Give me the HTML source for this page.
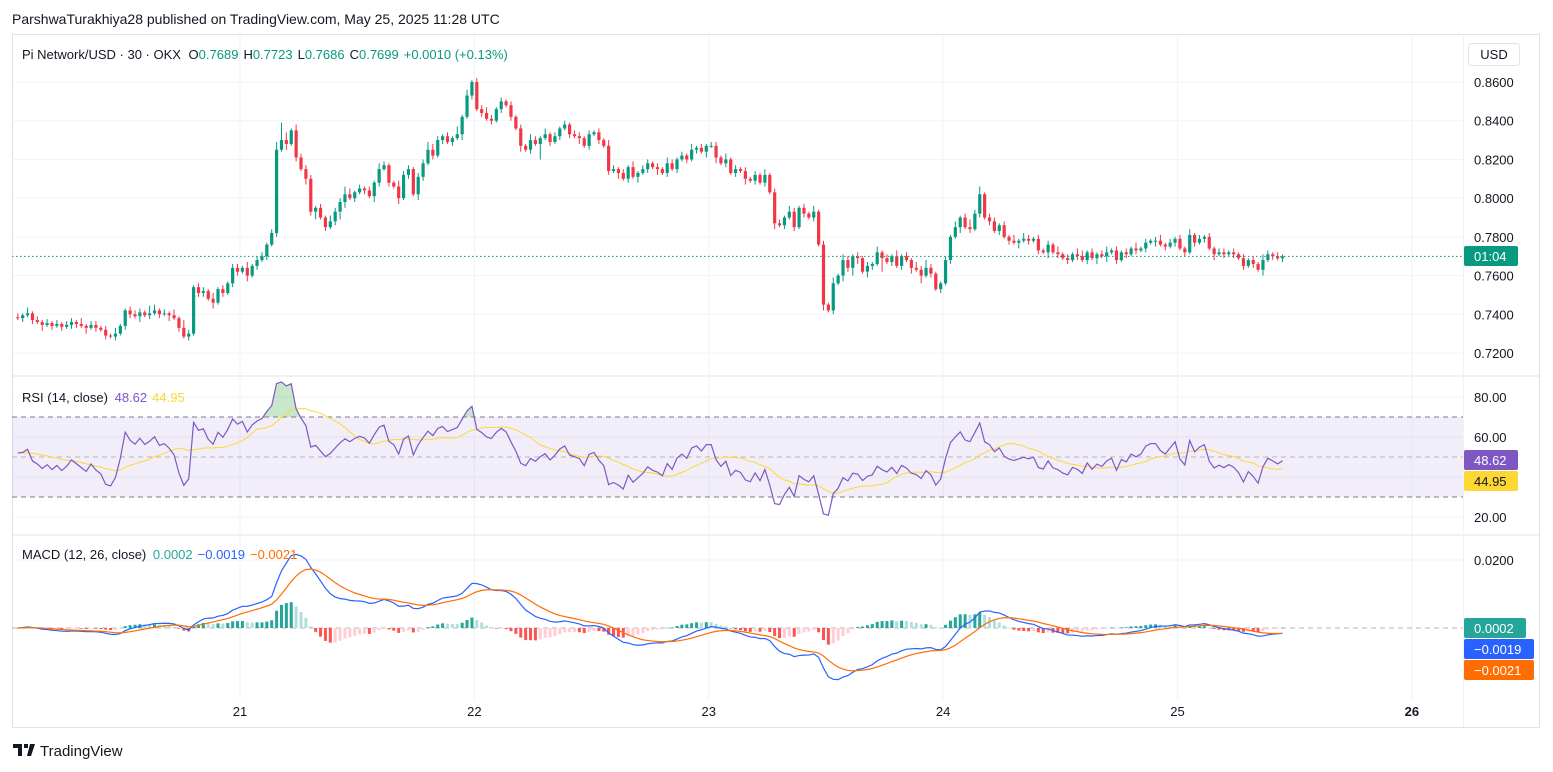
<!DOCTYPE html>
<html><head><meta charset="utf-8"><style>
body{margin:0;background:#fff;font-family:"Liberation Sans",sans-serif;}
svg{display:block}
</style></head><body>
<svg id="c" width="1553" height="772" xmlns="http://www.w3.org/2000/svg">
<text x="12" y="24" font-size="14" fill="#131722">ParshwaTurakhiya28 published on TradingView.com, May 25, 2025 11:28 UTC</text>
<rect x="12.5" y="34.5" width="1527" height="693" fill="none" stroke="#e0e3eb"/>
<g id="grid"></g>
<g id="panes"></g>
<g id="candles"></g>
<g id="rsi"></g>
<g id="macd"></g>
<g id="axis"></g>
<text x="22" y="59" font-size="13" fill="#131722">Pi Network/USD · 30 · OKX <tspan dx="4">O</tspan><tspan fill="#089981">0.7689</tspan><tspan dx="5">H</tspan><tspan fill="#089981">0.7723</tspan><tspan dx="5">L</tspan><tspan fill="#089981">0.7686</tspan><tspan dx="5">C</tspan><tspan fill="#089981">0.7699</tspan><tspan dx="5" fill="#089981">+0.0010 (+0.13%)</tspan></text>
<text x="22" y="402" font-size="13" fill="#131722">RSI (14, close) <tspan dx="3" fill="#7e57c2">48.62</tspan><tspan dx="5" fill="#fdd835">44.95</tspan></text>
<text x="22" y="559" font-size="13" fill="#131722">MACD (12, 26, close) <tspan dx="3" fill="#26a69a">0.0002</tspan><tspan dx="5" fill="#2962ff">−0.0019</tspan><tspan dx="5" fill="#ff6d00">−0.0021</tspan></text>
<rect x="1468.5" y="43.5" width="51" height="22" rx="3" fill="#fff" stroke="#e0e3eb"/>
<text x="1494" y="59" font-size="13" fill="#131722" text-anchor="middle">USD</text>
<g>
<path d="M13 744h9v12h-4v-8h-5z M24 744h4v4h-4z M30 744h5l-4 12h-4z" fill="#131722"/>
<text x="40" y="756" font-size="15" fill="#131722">TradingView</text>
</g>
</svg>
<script>
const closes=[7380,7395,7405,7370,7360,7345,7355,7340,7350,7335,
7345,7360,7350,7340,7330,7345,7330,7320,7290,7285,
7300,7340,7420,7400,7390,7410,7395,7405,7420,7400,
7405,7395,7380,7330,7285,7300,7540,7510,7520,7480,
7460,7530,7510,7560,7640,7620,7640,7600,7650,7680,
7700,7760,7820,8250,8300,8280,8350,8210,8150,8100,
7930,7950,7900,7850,7880,7930,7980,8020,8000,8030,
8050,8040,8010,8080,8150,8170,8080,8060,8000,8120,
8150,8020,8110,8180,8250,8220,8300,8320,8290,8310,
8330,8420,8530,8600,8460,8440,8410,8400,8460,8500,
8480,8420,8360,8270,8250,8300,8280,8310,8330,8290,
8320,8360,8380,8330,8320,8310,8270,8330,8340,8300,
8270,8140,8150,8130,8100,8160,8110,8130,8150,8180,
8160,8150,8130,8180,8150,8200,8220,8200,8250,8260,
8240,8270,8270,8210,8180,8200,8130,8150,8140,8100,
8090,8120,8080,8120,8030,7870,7860,7900,7930,7850,
7950,7920,7900,7930,7760,7450,7420,7560,7600,7680,
7640,7700,7690,7620,7650,7660,7720,7690,7670,7700,
7650,7700,7680,7640,7630,7600,7640,7610,7530,7560,
7680,7800,7850,7900,7850,7840,7920,8020,7900,7880,
7830,7860,7800,7780,7770,7780,7790,7780,7790,7730,
7720,7760,7720,7710,7690,7680,7710,7700,7680,7720,
7690,7710,7700,7720,7730,7680,7720,7710,7740,7730,
7740,7770,7780,7780,7760,7750,7770,7790,7740,7720,
7810,7770,7790,7800,7740,7710,7720,7710,7720,7710,
7690,7650,7680,7660,7630,7680,7710,7700,7689,7699];
const wickUp="21312121212213122121311222143121314212213121221312"+"21249413222121322431212132113221224321214131223212"+"12121321312121221212132121312212132121312122131212"+"12131221321213121313212121312131213242112131242412"+"21213132121213121331212312121312123121213121212212"+"1212132121";
const wickDn="12121312121221312121212213121213121212213121221312"+"12121312132412124312121321213121321212121312121212"+"12131218121212131212121312131213121212121313121213"+"12121312121212131213243132171212131412121213121212"+"12121312121312121212131312121212131212121212131212"+"1212131212";
const priceTicks=[0.86,0.84,0.82,0.80,0.78,0.76,0.74,0.72];
const rsiTicks=[80,60,40,20];
const dayLabels=["21","22","23","24","25","26"];
const dayStart=[45.5,93.5,141.5,189.5,237.5,285.5];

const NS="http://www.w3.org/2000/svg";
function mk(tag,attrs,parent){const e=document.createElementNS(NS,tag);for(const k in attrs)e.setAttribute(k,attrs[k]);parent.appendChild(e);return e;}
const X0=17.8, STEP=4.883, PL=12, PR=1463;
const xOf=i=>X0+i*STEP;
const yP=p=>82+(0.86-p)*1935.7;
const yR=v=>397+(80-v)*2;
const yM=v=>628-v*3400;

const grid=document.getElementById('grid');
priceTicks.forEach(t=>{const l=mk('line',{x1:PL,x2:PR,y1:yP(t),y2:yP(t),stroke:'#f0f3fa'},grid);
});
rsiTicks.forEach(t=>{const l=mk('line',{x1:PL,x2:PR,y1:yR(t),y2:yR(t),stroke:'#f0f3fa'},grid);
});
[0.02].forEach(t=>{const l=mk('line',{x1:PL,x2:PR,y1:yM(t),y2:yM(t),stroke:'#f0f3fa'},grid);
});
dayStart.forEach((d,k)=>{const x=xOf(d);
const l=mk('line',{x1:x,x2:x,y1:35,y2:700,stroke:'#f0f3fa'},grid);

const t=mk('text',{x:x,y:716,'font-size':13,fill:'#131722','text-anchor':'middle','font-weight':k==5?'bold':'normal'},grid);
t.textContent=dayLabels[k];
});

const panes=document.getElementById('panes');
[376,535].forEach(y=>{const l=mk('line',{x1:12,x2:1540,y1:y,y2:y,stroke:'#e0e3eb'},panes);
});
const ad=mk('line',{x1:PR+0.5,x2:PR+0.5,y1:35,y2:727,stroke:'#f0f3fa'},panes);


const cg=document.getElementById('candles');
const N=closes.length;
for(let i=0;i<N;i++){
 const c=closes[i]/10000, o=(i?closes[i-1]:closes[0]+5)/10000;
 const hi=Math.max(o,c)+(+wickUp[i]||0)*0.001, lo=Math.min(o,c)-(+wickDn[i]||0)*0.001;
 const col=c>=o?'#089981':'#f23645';const x=xOf(i);
 const w=mk('line',{x1:x,x2:x,y1:yP(hi),y2:yP(lo),stroke:col,'stroke-width':1},cg);
 
 const yt=yP(Math.max(o,c)),yb=yP(Math.min(o,c));
 const r=mk('rect',{x:x-1.6,y:yt,width:3.2,height:Math.max(1,yb-yt),fill:col},cg);
 
}
const lp=mk('line',{x1:PL,x2:PR,y1:yP(closes[N-1]/10000),y2:yP(closes[N-1]/10000),stroke:'#089981','stroke-dasharray':'1.5 2.5'},cg);


const cl=closes.map(v=>v/10000);
const rsi=[];let ag=0.0012,al=0.0012;
for(let i=1;i<N;i++){const d=cl[i]-cl[i-1];const g=Math.max(d,0),l=Math.max(-d,0);
 ag=(ag*13+g)/14;al=(al*13+l)/14;
 rsi[i]=al===0?100:100-100/(1+ag/al);}
rsi[0]=52;
const rsiMa=rsi.map((v,i)=>{const s=rsi.slice(Math.max(0,i-13),i+1);const pad=14-s.length;return (s.reduce((a,b)=>a+b,0)+pad*52)/14;});
function ema(arr,n){const k=2/(n+1);const out=[];arr.forEach((v,i)=>out.push(i?v*k+out[i-1]*(1-k):v));return out;}
const e12=ema(cl,12),e26=ema(cl,26);
const macd=e12.map((v,i)=>v-e26[i]);const sig=ema(macd,9);const hist=macd.map((v,i)=>v-sig[i]);

const rg=document.getElementById('rsi');
const band=mk('rect',{x:PL,y:yR(70),width:PR-PL,height:yR(30)-yR(70),fill:'rgba(126,87,194,0.1)'},rg);

[70,50,30].forEach(v=>{const l=mk('line',{x1:PL,x2:PR,y1:yR(v),y2:yR(v),stroke:v==50?'#b2b5be':'#787b86','stroke-dasharray':'5 4'},rg);
});
const pts=rsi.map((v,i)=>xOf(i)+','+yR(v)).join(' ');
mk('clipPath',{id:'ob'},rg).appendChild(document.createElementNS(NS,'rect'));
const cr=document.querySelector('#ob rect');cr.setAttribute('x',0);cr.setAttribute('y',0);cr.setAttribute('width',1553);cr.setAttribute('height',yR(70));
const obf=mk('polygon',{points:xOf(0)+','+yR(70)+' '+pts+' '+xOf(N-1)+','+yR(70),fill:'rgba(76,175,80,0.3)','clip-path':'url(#ob)'},rg);

const rma=mk('polyline',{points:rsiMa.map((v,i)=>xOf(i)+','+yR(v)).join(' '),fill:'none',stroke:'#fdd835','stroke-width':1},rg);

const rl=mk('polyline',{points:pts,fill:'none',stroke:'#7e57c2','stroke-width':1.2},rg);


const mg=document.getElementById('macd');
const z=mk('line',{x1:PL,x2:PR,y1:yM(0),y2:yM(0),stroke:'#b2b5be','stroke-dasharray':'5 4'},mg);

hist.forEach((h,i)=>{const p=i?hist[i-1]:h;let col;
 if(h>=0)col=h>=p?'#26a69a':'#b2dfdb';else col=h<p?'#ff5252':'#ffcdd2';
 const y1=yM(Math.max(h,0)),y2=yM(Math.min(h,0));
 const b=mk('rect',{x:xOf(i)-1.5,y:y1,width:3,height:Math.max(0.5,y2-y1),fill:col},mg);
 });
const ml=mk('polyline',{points:macd.map((v,i)=>xOf(i)+','+yM(v)).join(' '),fill:'none',stroke:'#2962ff','stroke-width':1.2},mg);

const sl=mk('polyline',{points:sig.map((v,i)=>xOf(i)+','+yM(v)).join(' '),fill:'none',stroke:'#ff6d00','stroke-width':1.2},mg);


const ax=document.getElementById('axis');
function lab(x,y,txt,name){const t=mk('text',{x:x,y:y,'font-size':13,fill:'#131722'},ax);t.textContent=txt;
 }
priceTicks.forEach(t=>lab(1474,yP(t)+5,t.toFixed(4),'price-tick'));
rsiTicks.filter(t=>t!=40).forEach(t=>lab(1474,yR(t)+5,t.toFixed(2),'rsi-tick'));
lab(1474,yM(0.02)+5,'0.0200','macd-tick');
function badge(y,w,bg,fg,txt,name){const r=mk('rect',{x:1464,y:y-10,width:w,height:20,rx:2,fill:bg},ax);
 
 const t=mk('text',{x:1474,y:y+5,'font-size':13,fill:fg},ax);t.textContent=txt;
 }
badge(256,54,'#089981','#fff','01:04','last-price-badge');
badge(460,54,'#7e57c2','#fff','48.62','rsi-badge');
badge(481,54,'#fdd835','#131722','44.95','rsi-ma-badge');
badge(628,62,'#26a69a','#fff','0.0002','histogram-badge');
badge(649,70,'#2962ff','#fff','−0.0019','macd-badge');
badge(670,70,'#ff6d00','#fff','−0.0021','signal-badge');
</script>
</body></html>
